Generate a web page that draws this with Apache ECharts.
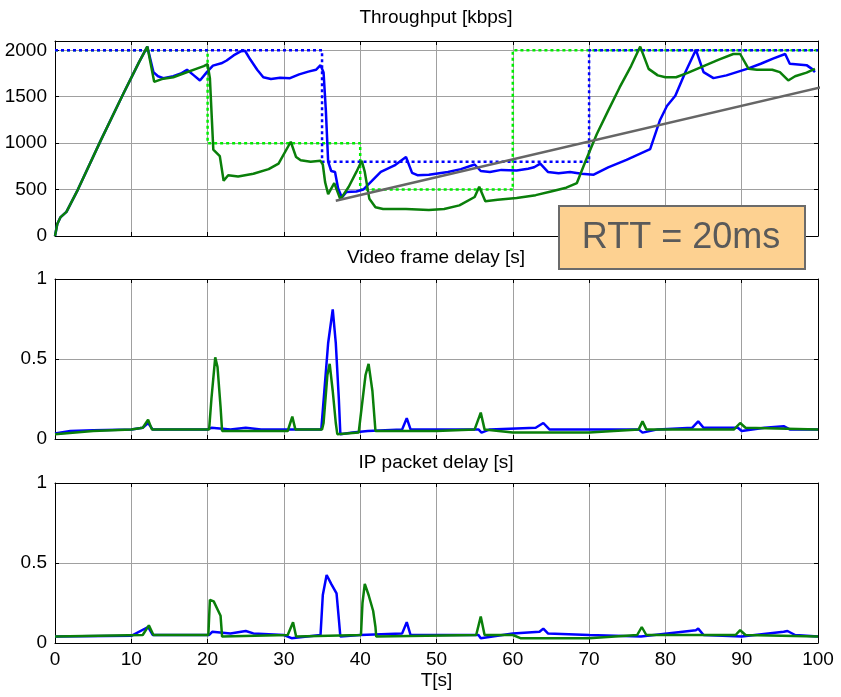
<!DOCTYPE html>
<html>
<head>
<meta charset="utf-8">
<title></title>
<style>
    * { margin: 0; padding: 0; }
    #main { width: 841px; height: 697px; background: #fff; }
</style>
</head>
<body>
<div id="main"></div>
<script src="https://cdn.jsdelivr.net/npm/echarts/dist/echarts.min.js"></script>
<script>
// throughput [kbps] over T[s]
var rampUp = [[0,0],[0.3,130],[0.7,200],[1.5,260],[3,500],[6,1030],[9,1540],[11,1870],[12.1,2040]];
var thrBlue = rampUp.concat([[12.9,1765],[13.5,1720],[14.2,1700],[15.5,1720],[16.5,1750],[17.3,1790],[18.2,1730],[19,1675],[19.9,1765],[20.7,1835],[21.8,1860],[22.5,1890],[23.4,1945],[24.4,1990],[24.9,1995],[25.6,1900],[26.5,1790],[27.3,1710],[28.3,1690],[29.5,1705],[30.8,1700],[32,1740],[33.2,1770],[34.2,1790],[34.8,1840],[35.2,1760],[35.5,1350],[35.8,800],[36.2,700],[36.7,690],[37.1,515],[37.6,415],[38.2,475],[39.5,480],[40.4,500],[41.5,590],[42.7,690],[44.5,760],[46,850],[46.8,680],[47.5,655],[49,660],[51.5,690],[53.2,720],[55,770],[55.8,700],[57,690],[58.5,712],[60.5,705],[62,725],[62.8,740],[63.6,780],[64.6,690],[66,675],[67.5,690],[69,670],[70.6,660],[72.5,740],[74.9,820],[78,935],[79.3,1250],[80.2,1400],[81.3,1510],[82.6,1760],[84,2005],[85,1765],[86.3,1700],[88,1730],[90.7,1800],[92.5,1855],[94.1,1910],[95.7,1960],[96.3,1855],[98.5,1840],[99.2,1800],[99.6,1765]]);
var thrGreen = rampUp.concat([[13,1660],[14,1690],[15.5,1710],[17,1755],[18.5,1800],[19.5,1830],[20,1850],[20.3,1700],[20.75,930],[21.6,860],[22.1,595],[22.7,655],[24,640],[26,670],[28,720],[29.3,780],[30.9,1015],[31.6,850],[32.2,815],[33.5,800],[34.8,810],[35.1,770],[35.4,580],[35.8,450],[36.6,570],[37.4,395],[38.5,530],[39.5,690],[40.2,810],[40.6,690],[41.2,400],[42,310],[43,290],[46,290],[49,280],[51,290],[53,330],[55,420],[55.6,530],[56.4,375],[58,390],[60.5,410],[63,440],[65,480],[67,520],[68.4,570],[69.5,800],[71,1095],[72.5,1350],[74,1600],[75.5,1830],[76.7,2040],[77.8,1800],[79,1730],[80,1710],[81.4,1710],[83,1760],[85,1830],[87,1900],[88.9,1960],[89.8,1960],[90.9,1800],[92,1790],[94,1790],[95,1765],[96.1,1675],[97,1720],[98.5,1760],[99.6,1800]]);
var targetBlue = [[0,2000],[35,2000],[35,800],[70,800],[70,2000],[100,2000]];
var targetGreen = [[0,2000],[20,2000],[20,1000],[40,1000],[40,500],[60,500],[60,2000],[100,2000]];
var trendLine = [[36.8,380],[103,1652]];

// video frame delay [s]
var vfdBlue = [[0,0.035],[2,0.05],[5,0.055],[10,0.06],[11.5,0.07],[12.2,0.1],[12.8,0.06],[20,0.06],[20.5,0.07],[23,0.06],[25,0.07],[27,0.06],[34.9,0.06],[35.3,0.3],[35.8,0.6],[36.4,0.81],[36.8,0.6],[37.2,0.25],[37.4,0.03],[39,0.04],[41,0.05],[45.5,0.06],[46.1,0.13],[46.6,0.06],[50,0.06],[55.5,0.06],[55.9,0.04],[57,0.06],[63,0.07],[64,0.1],[64.8,0.06],[70,0.06],[76.5,0.06],[77,0.04],[79,0.06],[83.5,0.07],[84.3,0.11],[85,0.07],[89.5,0.07],[90,0.05],[93,0.07],[95.5,0.08],[96.3,0.06],[100,0.06]];
var vfdGreen = [[0,0.03],[5,0.05],[10,0.06],[11.5,0.07],[12.2,0.12],[12.7,0.06],[20.2,0.06],[20.5,0.25],[21,0.51],[21.3,0.45],[21.7,0.2],[21.9,0.05],[30.5,0.05],[31.1,0.14],[31.5,0.06],[35,0.06],[35.2,0.1],[35.7,0.4],[36,0.47],[36.4,0.3],[36.8,0.1],[37,0.03],[39.8,0.04],[40.2,0.2],[40.7,0.4],[41.1,0.47],[41.6,0.3],[42,0.05],[50,0.05],[55,0.06],[55.8,0.165],[56.3,0.06],[60,0.04],[70,0.04],[76.5,0.06],[77,0.11],[77.5,0.06],[89,0.06],[89.8,0.1],[90.5,0.07],[100,0.06]];

// IP packet delay [s]
var ipBlue = [[0,0.04],[10,0.045],[12.2,0.1],[12.8,0.05],[20.2,0.05],[20.6,0.07],[23,0.06],[25,0.075],[26,0.06],[30,0.05],[31,0.03],[34.8,0.05],[35.1,0.3],[35.6,0.425],[36.2,0.37],[36.9,0.31],[37.2,0.15],[37.4,0.04],[40,0.05],[45.5,0.06],[46.1,0.13],[46.6,0.05],[55.5,0.05],[55.8,0.03],[60,0.06],[63.5,0.07],[64,0.09],[64.6,0.06],[70,0.05],[76.8,0.04],[84,0.08],[84.3,0.09],[85,0.05],[90,0.04],[95.5,0.07],[96,0.075],[97,0.05],[100,0.04]];
var ipGreen = [[0,0.04],[11.5,0.05],[12.3,0.11],[12.9,0.05],[20.1,0.05],[20.3,0.27],[20.8,0.26],[21.4,0.2],[21.7,0.17],[21.9,0.04],[30.5,0.05],[31.2,0.13],[31.6,0.04],[40.1,0.05],[40.3,0.25],[40.6,0.37],[41.1,0.3],[41.7,0.2],[42,0.1],[42.1,0.04],[55.2,0.05],[55.8,0.165],[56.3,0.05],[60,0.05],[61,0.03],[70,0.03],[76.3,0.05],[76.9,0.1],[77.5,0.05],[89.2,0.05],[89.8,0.08],[90.5,0.05],[100,0.04]];

var panelTitles = ['Throughput [kbps]', 'Video frame delay [s]', 'IP packet delay [s]'];

var FONT = 'Liberation Sans';
var FS = 19;
var chart = echarts.init(document.getElementById('main'));

var grids = [
    { left: 55, right: 23, top: 41, height: 195 },
    { left: 55, right: 23, top: 279, height: 160 },
    { left: 55, right: 23, top: 483, height: 160 }
];

function xAx(gi, pos, labels) {
    return {
        type: 'value', gridIndex: gi, position: pos, min: 0, max: 100, interval: 10,
        axisLine: { onZero: false, lineStyle: { color: '#000', width: 1 } },
        axisTick: { inside: true, length: 4, lineStyle: { color: '#000' } },
        axisLabel: { show: labels, color: '#000', fontSize: FS, fontFamily: FONT, margin: 7 },
        splitLine: { show: pos === 'bottom', lineStyle: { color: '#a0a0a0', width: 1 } },
        name: labels ? 'T[s]' : '', nameLocation: 'middle', nameGap: 28,
        nameTextStyle: { color: '#000', fontSize: FS, fontFamily: FONT }
    };
}
function yAx(gi, pos, max, step, labels) {
    return {
        type: 'value', gridIndex: gi, position: pos, min: 0, max: max, interval: step,
        axisLine: { onZero: false, lineStyle: { color: '#000', width: 1 } },
        axisTick: { inside: true, length: 4, lineStyle: { color: '#000' } },
        axisLabel: {
            show: labels, color: '#000', fontSize: FS, fontFamily: FONT, margin: 8,
            formatter: function (v) { return Math.abs(v / step - Math.round(v / step)) < 1e-6 ? String(v) : ''; }
        },
        splitLine: { show: pos === 'left', lineStyle: { color: '#a0a0a0', width: 1 } }
    };
}

function ln(xi, data, color, width, dash, z) {
    return {
        type: 'line', xAxisIndex: xi, yAxisIndex: xi, data: data, symbol: 'none',
        lineStyle: { color: color, width: width, type: dash || 'solid', cap: 'butt' },
        z: z || 2, silent: true
    };
}

var titleY = [18, 258, 463];
var titleText = panelTitles.map(function (t, i) {
    return {
        type: 'text', x: 436, y: titleY[i],
        style: { text: t, fill: '#000', font: FS + 'px ' + FONT, textAlign: 'center', textVerticalAlign: 'middle', verticalAlign: 'middle' }
    };
});

var trend = ln(0, trendLine, '#666666', 2.5, 'solid', 5);
trend.clip = false;

var option = {
    animation: false,
    backgroundColor: '#fff',
    grid: grids,
    xAxis: [xAx(0, 'bottom', false), xAx(1, 'bottom', false), xAx(2, 'bottom', true),
            xAx(0, 'top', false), xAx(1, 'top', false), xAx(2, 'top', false)],
    yAxis: [yAx(0, 'left', 2100, 500, true), yAx(1, 'left', 1, 0.5, true), yAx(2, 'left', 1, 0.5, true),
            yAx(0, 'right', 2100, 500, false), yAx(1, 'right', 1, 0.5, false), yAx(2, 'right', 1, 0.5, false)],
    series: [
        ln(0, targetGreen, '#00ee00', 2.5, [3, 3]),
        ln(0, targetBlue, '#0000ff', 2.5, [3, 3]),
        ln(0, thrBlue, '#0000ff', 2.5),
        ln(0, thrGreen, '#0a7f0a', 2.5),
        trend,
        ln(1, vfdBlue, '#0000ff', 2.5),
        ln(1, vfdGreen, '#0a7f0a', 2.5),
        ln(2, ipBlue, '#0000ff', 2.5),
        ln(2, ipGreen, '#0a7f0a', 2.5)
    ],
    graphic: titleText.concat([
        {
            type: 'rect', left: 558, top: 205, z: 100,
            shape: { width: 246, height: 63 },
            style: { fill: '#fdd191', stroke: '#6b6b6b', lineWidth: 2 }
        },
        {
            type: 'text', x: 681, y: 238, z: 101,
            style: { text: 'RTT = 20ms', fill: '#5a5a5a', font: '36px ' + FONT, textAlign: 'center', textVerticalAlign: 'middle', verticalAlign: 'middle' }
        }
    ])
};
chart.setOption(option);
</script>
</body>
</html>
